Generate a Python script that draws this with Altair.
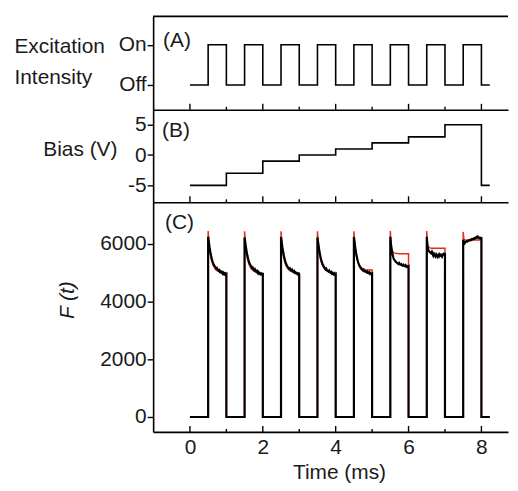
import altair as alt
import pandas as pd

FONT = "Liberation Sans"
INK = "#1a1a1a"

# ---------------- data ----------------
# Panel A: excitation on/off square wave
A_T = [0, 0.5, 1.0, 1.5, 2.0, 2.5, 3.0, 3.5, 4.0, 4.5, 5.0, 5.5, 6.0, 6.5, 7.0, 7.5, 8.0, 8.23]
A_V = [0, 1, 0, 1, 0, 1, 0, 1, 0, 1, 0, 1, 0, 1, 0, 1, 0, 0]

# Panel B: bias staircase (V)
B_T = [0, 1, 2, 3, 4, 5, 6, 7, 8, 8.23]
B_V = [-5, -3, -1, 0, 1, 2, 3, 5, -5, -5]

# Panel C: pulses
PULSE_ON = [0.5, 1.5, 2.5, 3.5, 4.5, 5.5, 6.5, 7.5]
PULSE_OFF = [1.0, 2.0, 3.0, 4.0, 5.0, 6.0, 7.0, 8.0]
T_START = 0.0
T_END = 8.23

# measured trace (black), sample offsets within each on-phase (ms)
BLACK_OFFS = [0.00, 0.02, 0.04, 0.06, 0.08, 0.10, 0.12, 0.14, 0.16, 0.18, 0.20, 0.22, 0.24,
              0.26, 0.28, 0.30, 0.32, 0.34, 0.36, 0.38, 0.40, 0.42, 0.44, 0.46, 0.48, 0.50]
BLACK_P1 = [6250, 6060, 5880, 5730, 5600, 5490, 5400, 5330, 5270, 5230, 5200, 5150, 5170,
            5110, 5080, 5100, 5040, 5060, 5010, 5030, 4970, 5000, 4950, 4980, 4930, 4950]
BLACK_P2 = [6230, 6040, 5860, 5710, 5580, 5470, 5390, 5310, 5280, 5210, 5170, 5190, 5120,
            5100, 5130, 5060, 5040, 5070, 5000, 5030, 4970, 4990, 4950, 4970, 4940, 4950]
BLACK_P3 = [6240, 6050, 5870, 5720, 5590, 5480, 5380, 5320, 5250, 5220, 5170, 5140, 5160,
            5100, 5080, 5110, 5050, 5030, 5060, 5000, 5020, 4980, 4990, 4950, 4970, 4950]
BLACK_P4 = [6230, 6040, 5860, 5710, 5580, 5460, 5380, 5300, 5260, 5200, 5160, 5120, 5150,
            5090, 5070, 5050, 5080, 5020, 5000, 5030, 4970, 4990, 4950, 4970, 4930, 4950]
BLACK_P5 = [6240, 6050, 5850, 5690, 5560, 5440, 5350, 5280, 5230, 5180, 5140, 5120, 5090,
            5110, 5060, 5070, 5040, 5020, 5050, 5000, 4990, 5020, 4970, 4990, 4950, 4970]
BLACK_P6 = [6250, 5970, 5780, 5640, 5540, 5470, 5430, 5400, 5370, 5350, 5330, 5310, 5340,
            5290, 5280, 5300, 5260, 5250, 5280, 5240, 5230, 5260, 5210, 5230, 5200, 5220]
BLACK_P7 = [6250, 5920, 5800, 5750, 5730, 5700, 5680, 5730, 5650, 5590, 5660, 5610, 5570,
            5640, 5590, 5550, 5620, 5580, 5640, 5600, 5620, 5570, 5640, 5660, 5620, 5690]
BLACK_P8 = [6150, 6050, 6020, 6060, 6080, 6100, 6090, 6110, 6130, 6120, 6150, 6140, 6170,
            6160, 6190, 6180, 6210, 6200, 6240, 6220, 6260, 6230, 6200, 6220, 6190, 6200]
BLACK = [BLACK_P1, BLACK_P2, BLACK_P3, BLACK_P4, BLACK_P5, BLACK_P6, BLACK_P7, BLACK_P8]

# fitted trace (red)
RED_OFFS = [0.00, 0.02, 0.04, 0.07, 0.10, 0.14, 0.19, 0.25, 0.32, 0.40, 0.50]
RED_P1 = [6450, 6080, 5800, 5560, 5390, 5250, 5140, 5070, 5030, 5010, 5000]
RED_P2 = [6440, 6070, 5790, 5550, 5380, 5240, 5130, 5060, 5020, 5000, 4990]
RED_P3 = [6440, 6070, 5790, 5550, 5380, 5240, 5140, 5070, 5030, 5010, 5000]
RED_P4 = [6440, 6080, 5800, 5560, 5390, 5250, 5150, 5080, 5040, 5020, 5010]
RED_P5 = [6440, 6090, 5810, 5580, 5420, 5290, 5200, 5140, 5110, 5100, 5100]
RED_P6 = [6450, 5980, 5820, 5730, 5690, 5675, 5670, 5665, 5665, 5665, 5665]
RED_P7 = [6450, 6010, 5910, 5875, 5860, 5855, 5855, 5855, 5855, 5855, 5855]
RED_P8 = [6420, 6150, 6140, 6140, 6140, 6140, 6140, 6140, 6140, 6140, 6140]
RED = [RED_P1, RED_P2, RED_P3, RED_P4, RED_P5, RED_P6, RED_P7, RED_P8]

MAJOR_TICKS = [0, 2, 4, 6, 8]
MINOR_TICKS = [1, 3, 5, 7]


def trace(offs, pulses):
    rows = [(T_START, 0)]
    for on, off, vals in zip(PULSE_ON, PULSE_OFF, pulses):
        rows.append((on, 0))
        for o, v in zip(offs, vals):
            rows.append((on + o, v))
        rows.append((off, 0))
    rows.append((T_END, 0))
    return pd.DataFrame({"t": [r[0] for r in rows], "v": [r[1] for r in rows],
                         "i": list(range(len(rows)))})


df_a = pd.DataFrame({"t": A_T, "v": A_V})
df_b = pd.DataFrame({"t": B_T, "v": B_V})
df_black = trace(BLACK_OFFS, BLACK)
df_red = trace(RED_OFFS, RED)
df_major = pd.DataFrame({"t": MAJOR_TICKS})
df_minor = pd.DataFrame({"t": MINOR_TICKS})

# ---------------- layout ----------------
W = 357
HA, HB, HC = 94, 93, 231
XSCALE = alt.Scale(domain=[-1.01, 8.73], nice=False, zero=False)
LW = 1.6

ax_plain = alt.Axis(labels=False, ticks=False, domain=True, grid=False, title=None)


def xq(axis):
    return alt.X("t:Q", scale=XSCALE, axis=axis)


def inward_ticks(h, axis):
    major = alt.Chart(df_major).mark_rule(color="black", strokeWidth=1.4).encode(
        x=xq(axis), y=alt.value(h), y2=alt.value(h - 6))
    minor = alt.Chart(df_minor).mark_rule(color="black", strokeWidth=1.4).encode(
        x=xq(axis), y=alt.value(h), y2=alt.value(h - 3))
    return [major, minor]


def panel_label(txt, dx, dy):
    return alt.Chart(pd.DataFrame({"s": [txt]})).mark_text(
        align="left", baseline="middle", font=FONT, fontSize=21, color=INK
    ).encode(x=alt.value(dx), y=alt.value(dy), text="s:N")


# Panel A
ya = alt.Y("v:Q", scale=alt.Scale(domain=[-0.617, 1.704], nice=False, zero=False),
           axis=alt.Axis(values=[0, 1], labelExpr="datum.value == 1 ? 'On' : 'Off'",
                         title=["Excitation", "Intensity"], titleAngle=0, titleAlign="left",
                         titleBaseline="middle", titleX=-140, titleY=30, titleLineHeight=32))
line_a = alt.Chart(df_a).mark_line(interpolate="step-after", color="black", strokeWidth=LW).encode(
    x=xq(ax_plain), y=ya)
top_a = alt.Chart(pd.DataFrame({"s": [0]})).mark_rule(color="black", strokeWidth=LW).encode(
    x=alt.value(0), x2=alt.value(W), y=alt.value(0))
panel_a = alt.layer(line_a, *inward_ticks(HA, ax_plain), top_a,
                    panel_label("(A)", 10, 25)).properties(width=W, height=HA)

# Panel B
yb = alt.Y("v:Q", scale=alt.Scale(domain=[-7.79, 7.46], nice=False, zero=False),
           axis=alt.Axis(values=[-5, 0, 5], labelExpr="'' + datum.value", title="Bias (V)",
                         titleAngle=0, titleAlign="left", titleBaseline="middle",
                         titleX=-111, titleY=40))
line_b = alt.Chart(df_b).mark_line(interpolate="step-after", color="black", strokeWidth=LW).encode(
    x=xq(ax_plain), y=yb)
panel_b = alt.layer(line_b, *inward_ticks(HB, ax_plain),
                    panel_label("(B)", 9, 21)).properties(width=W, height=HB)

# Panel C
ax_c = alt.Axis(values=MAJOR_TICKS, labels=True, ticks=False, domain=True, grid=False,
                title="Time (ms)", labelPadding=5, titleX=187, titleY=41, titleBaseline="middle")
yc = alt.Y("v:Q", scale=alt.Scale(domain=[-517, 7448], nice=False, zero=False),
           axis=alt.Axis(values=[0, 2000, 4000, 6000], format="d", title="F (t)",
                         titleFontStyle="italic", titleAngle=270, titleAlign="center",
                         titleBaseline="middle", titleX=-86, titleY=98))
red_c = alt.Chart(df_red).mark_line(color="#e0301e", strokeWidth=1.5).encode(
    x=xq(ax_c), y=yc, order="i:Q")
black_c = alt.Chart(df_black).mark_line(color="black", strokeWidth=2.2).encode(
    x=xq(ax_c), y=yc, order="i:Q")
panel_c = alt.layer(red_c, black_c, *inward_ticks(HC, ax_c),
                    panel_label("(C)", 12, 21)).properties(width=W, height=HC)

chart = alt.vconcat(panel_a, panel_b, panel_c, spacing=0, bounds="flush").properties(
    padding={"left": 5, "top": 5, "right": 0, "bottom": 0}
).configure_view(stroke="transparent").configure_axis(
    domainColor="black", domainWidth=LW, tickColor="black", tickWidth=1.4, tickSize=6,
    labelFont=FONT, labelFontSize=21, labelColor=INK, labelPadding=1,
    titleFont=FONT, titleFontSize=21, titleColor=INK, titleFontWeight="normal", grid=False
).configure_text(font=FONT)

chart.save("out.html", embed_options={"renderer": "svg", "actions": False})
